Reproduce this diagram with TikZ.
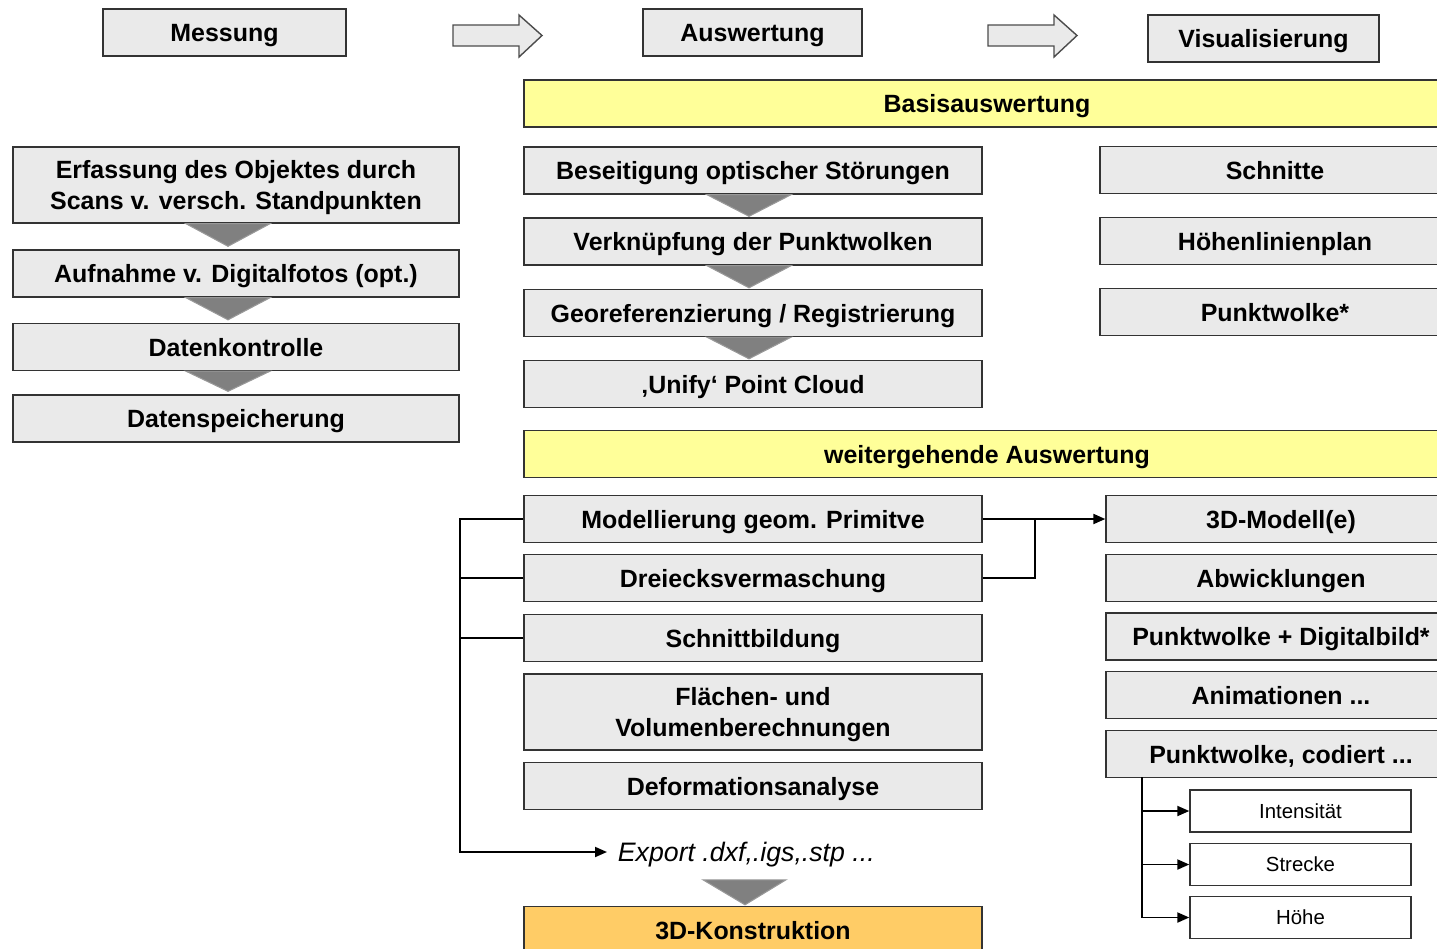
\documentclass[tikz,border=0pt]{standalone}
\usepackage{fontspec}
\setmainfont{Liberation Sans}
\usetikzlibrary{positioning, arrows.meta, calc}
\usepackage{xcolor}
\definecolor{boxgray}{RGB}{234,234,234}
\definecolor{basisyellow}{RGB}{255,255,153}
\definecolor{konstrorange}{RGB}{255,204,102}

\begin{document}
\begin{tikzpicture}[x=0.02cm, y=-0.02cm,
  box/.style={draw=black!80, line width=0.8pt, fill=boxgray, minimum height=0.94cm, inner sep=0pt, text depth=0pt, align=center, font=\fontsize{14.2}{17.5}\selectfont\bfseries},
  lbox/.style={box, minimum width=8.92cm},
  mbox/.style={box, minimum width=9.16cm},
  rbox/.style={box, minimum width=7cm},
  subbox/.style={draw=black!80, line width=0.8pt, fill=white, minimum width=4.42cm, minimum height=0.84cm, inner sep=0pt, text depth=0pt, font=\fontsize{11.6}{14}\selectfont},
  tri/.style={fill=black!50, draw=black!40, line width=0.6pt},
  blockarrow/.style={fill=boxgray, draw=black!70, line width=0.8pt},
  conn/.style={line width=1.1pt},
  tip/.style={-{Triangle[length=0.24cm,width=0.2cm]}}]
  \useasboundingbox (0,0) rectangle (1437,948);
  \clip (0,0) rectangle (1437,948);

  % top row
  \node[box, minimum width=4.86cm] (messung) at (224.5,32.5) {Messung};
  \node[box, minimum width=4.38cm] (auswert) at (752.5,32.5) {Auswertung};
  \node[box, minimum width=4.62cm] (visual) at (1263.5,38.5) {Visualisierung};
  \foreach \x in {453,988}
    \filldraw[blockarrow] (\x,25) -- ++(66,0) -- ++(0,-10) -- ++(23,20.5) -- ++(-23,21.5) -- ++(0,-11) -- ++(-66,0) -- cycle;

  \node[box, fill=basisyellow, minimum width=18.52cm] (basis) at (987,103.5) {Basisauswertung};

  % Messung
  \node[lbox, minimum height=1.52cm] (erfassung) at (236,185) {Erfassung des Objektes durch\\Scans v. versch. Standpunkten};
  \node[lbox] (aufnahme) at (236,273.5) {Aufnahme v. Digitalfotos (opt.)};
  \node[lbox] (kontrolle) at (236,347) {Datenkontrolle};
  \node[lbox] (speicher) at (236,418.5) {Datenspeicherung};
  \foreach \a/\b in {erfassung/aufnahme, aufnahme/kontrolle, kontrolle/speicher}
    \filldraw[tri] ($(\a.south)+(-50,0)$) -- ++(84,0) -- ($(\b.north)+(-8,-3)$) -- cycle;

  % Basisauswertung
  \node[mbox] (beseitigung) at (753,170.5) {Beseitigung optischer Störungen};
  \node[mbox] (verknuepfung) at (753,241.5) {Verknüpfung der Punktwolken};
  \node[mbox] (georef) at (753,313) {Georeferenzierung / Registrierung};
  \node[mbox] (unify) at (753,384) {‚Unify‘ Point Cloud};
  \foreach \a/\b in {beseitigung/verknuepfung, verknuepfung/georef, georef/unify}
    \filldraw[tri] ($(\a.south)+(-46,0)$) -- ++(84,0) -- ($(\b.north)+(-4,-1)$) -- cycle;

  \node[rbox] (schnitte) at (1275,170) {Schnitte};
  \node[rbox] (hoehenplan) at (1275,241) {Höhenlinienplan};
  \node[rbox] (punktwolke) at (1275,312) {Punktwolke*};

  % weitergehende Auswertung
  \node[box, fill=basisyellow, minimum width=18.52cm] (weiter) at (987,454) {weitergehende Auswertung};
  \node[mbox] (modell) at (753,519) {Modellierung geom. Primitve};
  \node[mbox] (dreieck) at (753,578) {Dreiecksvermaschung};
  \node[mbox] (schnitt) at (753,638) {Schnittbildung};
  \node[mbox, minimum height=1.52cm] (flaechen) at (753,712) {Flächen- und\\Volumenberechnungen};
  \node[mbox] (deform) at (753,786) {Deformationsanalyse};
  \node[anchor=west, inner sep=6pt, text depth=0pt, font=\fontsize{15.2}{18}\selectfont\itshape] (export) at (607,852) {Export .dxf,.igs,.stp ...};
  \node[mbox, fill=konstrorange] (konstr) at (753,930) {3D-Konstruktion};
  \filldraw[tri] ($(konstr.north)+(-50,-26)$) -- ++(83,0) -- ($(konstr.north)+(-8,-1)$) -- cycle;

  \node[rbox] (modelle) at (1281,519) {3D-Modell(e)};
  \node[rbox] (abwickl) at (1281,578) {Abwicklungen};
  \node[rbox] (digital) at (1281,636.5) {Punktwolke + Digitalbild*};
  \node[rbox] (anim) at (1281,695) {Animationen ...};
  \node[rbox] (codiert) at (1281,754) {Punktwolke, codiert ...};
  \node[subbox] (intens) at (1300.5,811) {Intensität};
  \node[subbox] (strecke) at (1300.5,864.5) {Strecke};
  \node[subbox] (hoehe) at (1300.5,917.5) {Höhe};

  % connectors
  \coordinate (busbot) at (460,852);
  \coordinate (join) at (1035,519);
  \coordinate (cbus) at (1142,777);
  \draw[conn, tip] (modell.west) -| (busbot) -- (export.west);
  \draw[conn] (dreieck.west) -- (dreieck.west -| busbot);
  \draw[conn] (schnitt.west) -- (schnitt.west -| busbot);
  \draw[conn, tip] (modell.east) -- (modelle.west);
  \draw[conn] (dreieck.east) -| (join);
  \draw[conn, tip] (cbus) |- (hoehe.west);
  \draw[conn, tip] (cbus |- intens.west) -- (intens.west);
  \draw[conn, tip] (cbus |- strecke.west) -- (strecke.west);
\end{tikzpicture}
\end{document}
